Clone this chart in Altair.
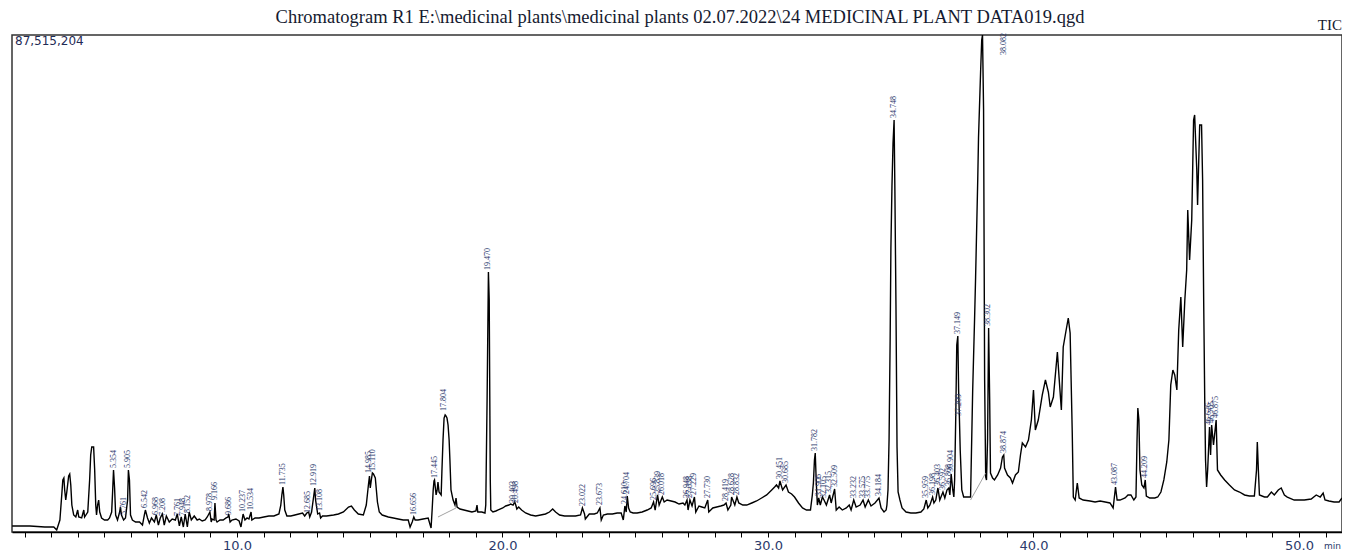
import altair as alt
import pandas as pd

# ---------------- data ----------------
# retention time (min) and TIC intensity (x 10^6 counts), segment by segment
rt_a = [1.53, 2.20, 2.76, 3.10, 3.21, 3.33, 3.40, 3.44, 3.48, 3.51, 3.55, 3.59, 3.66, 3.70, 3.74, 3.78, 3.85, 3.93, 4.00, 4.04,
        4.15, 4.23, 4.26, 4.38, 4.45, 4.49, 4.53, 4.60, 4.64, 4.68, 4.71, 4.75, 4.79, 4.83, 4.90, 5.01, 5.13, 5.20, 5.28, 5.31,
        5.35, 5.39, 5.43, 5.50, 5.58, 5.61, 5.65, 5.73, 5.80, 5.88, 5.91, 5.95, 5.99, 6.06, 6.18, 6.33, 6.44, 6.51, 6.55, 6.63, 6.70]
tic_a = [1.06, 1.06, 0.88, 0.88, 0.35, 2.11, 6.52, 9.16, 9.51, 7.40, 5.63, 7.04, 9.86, 10.21, 8.28, 4.75, 2.99, 2.64, 3.87, 2.64,
         2.47, 3.87, 2.64, 3.52, 9.16, 13.56, 14.97, 14.97, 10.92, 4.75, 2.99, 4.75, 5.63, 3.52, 2.47, 2.11, 2.11, 2.47, 3.52, 6.52,
         10.92, 7.75, 2.99, 2.11, 3.52, 4.40, 2.99, 2.11, 2.47, 5.63, 10.92, 9.16, 2.99, 2.11, 1.76, 1.76, 1.23, 2.99, 3.87, 2.47, 1.58]

rt_b = [6.78, 6.89, 6.96, 7.04, 7.11, 7.19, 7.26, 7.34, 7.45, 7.56, 7.68, 7.75, 7.83, 7.90, 7.98, 8.05, 8.13, 8.20, 8.28, 8.39,
        8.50, 8.58, 8.69, 8.80, 8.88, 8.98, 9.03, 9.06, 9.14, 9.17, 9.21, 9.25, 9.36, 9.48, 9.59, 9.66, 9.69, 9.74, 9.81, 9.96,
        10.08, 10.15, 10.23, 10.30, 10.38, 10.45, 10.53, 10.56, 10.68, 10.83]
tic_b = [2.47, 1.76, 2.99, 1.23, 2.47, 3.17, 1.23, 2.82, 1.76, 2.29, 2.11, 3.17, 1.06, 2.64, 0.88, 3.17, 0.88, 3.52, 2.11, 2.82,
         2.11, 2.29, 1.94, 2.11, 2.64, 3.52, 1.76, 2.29, 2.11, 5.11, 2.11, 1.76, 2.11, 2.11, 2.47, 2.64, 3.17, 1.76, 2.11, 2.29,
         1.94, 0.88, 3.17, 2.11, 2.47, 2.29, 3.52, 2.11, 2.47, 2.47]

rt_c = [11.01, 11.20, 11.39, 11.58, 11.65, 11.69, 11.73, 11.76, 11.80, 11.88, 12.03, 12.18, 12.33, 12.47, 12.55, 12.63, 12.70,
        12.74, 12.81, 12.89, 12.93, 12.96, 13.04, 13.11, 13.15, 13.22, 13.37, 13.64, 13.82, 14.01, 14.20, 14.31, 14.42, 14.57,
        14.76, 14.87, 14.95, 14.99, 15.02, 15.06, 15.10, 15.14, 15.21, 15.25, 15.29, 15.36, 15.47, 15.70, 15.89, 16.07, 16.26,
        16.45, 16.52, 16.60, 16.66, 16.71, 16.82, 17.01, 17.20, 17.31]
tic_c = [2.64, 2.82, 2.82, 3.17, 4.75, 6.52, 7.92, 6.52, 3.87, 2.82, 2.82, 2.99, 3.17, 3.35, 2.82, 3.35, 3.52,
         2.64, 3.52, 6.34, 7.75, 5.63, 3.17, 3.35, 2.47, 2.82, 2.82, 2.99, 3.17, 3.52, 4.40, 4.58, 3.87, 3.17,
         2.99, 4.75, 8.28, 9.86, 7.75, 9.16, 10.39, 10.21, 9.51, 7.40, 5.28, 3.52, 2.99, 2.64, 2.47, 2.29, 2.11,
         2.11, 0.88, 1.76, 2.64, 2.11, 2.11, 2.29, 2.47, 0.70]

rt_d = [17.35, 17.39, 17.42, 17.44, 17.50, 17.54, 17.57, 17.61, 17.69, 17.72, 17.76, 17.80, 17.84, 17.87, 17.91, 17.95, 17.99,
        18.02, 18.06, 18.14, 18.21, 18.25, 18.29, 18.40, 18.55, 18.70, 18.85, 19.00, 19.04, 19.07, 19.22, 19.34, 19.37, 19.42,
        19.47, 19.50, 19.54, 19.56, 19.64, 19.75]
tic_d = [3.87, 7.40, 8.98, 9.16, 6.52, 7.40, 8.80, 7.04, 6.52, 10.92, 16.20, 20.07, 20.60, 20.43, 20.07, 18.84, 16.20,
         12.68, 7.40, 5.63, 4.75, 5.99, 4.40, 4.05, 3.87, 3.70, 3.52, 3.70, 4.75, 3.52, 3.52, 3.35, 4.75, 23.24,
         45.78, 40.85, 9.16, 3.87, 3.52, 3.70]

rt_e = [19.82, 20.01, 20.12, 20.24, 20.31, 20.40, 20.46, 20.50, 20.54, 20.61, 20.72, 20.87, 21.06, 21.25, 21.44, 21.62, 21.77,
        21.89, 22.00, 22.15, 22.34, 22.52, 22.75, 22.94, 23.01, 23.09, 23.12, 23.27, 23.46, 23.57, 23.67, 23.72, 23.80, 23.95,
        24.14, 24.32, 24.47, 24.55, 24.61, 24.66, 24.70, 24.75, 24.81, 24.92, 25.07]
tic_e = [3.87, 4.23, 4.58, 4.75, 4.93, 4.75, 5.28, 4.75, 4.05, 4.40, 3.87, 3.35, 2.99, 2.82, 2.99, 3.17, 3.52,
         4.05, 3.52, 2.99, 2.82, 2.82, 2.82, 2.99, 4.23, 3.17, 2.29, 3.17, 3.17, 3.35, 4.23, 2.11, 2.99, 3.17,
         3.17, 3.35, 3.35, 2.11, 4.58, 3.52, 6.34, 4.23, 3.52, 3.35, 3.35]

rt_f = [25.26, 25.45, 25.60, 25.69, 25.75, 25.84, 25.90, 26.02, 26.09, 26.20, 26.35, 26.50, 26.65, 26.80, 26.87, 26.95, 26.99,
        27.06, 27.14, 27.23, 27.28, 27.40, 27.51, 27.62, 27.73, 27.77, 27.92, 28.07, 28.22, 28.34, 28.42, 28.49, 28.60, 28.63,
        28.75, 28.83, 28.90, 29.05, 29.20, 29.39, 29.57, 29.76, 29.95]
tic_f = [3.52, 3.87, 4.23, 5.28, 3.87, 6.52, 4.75, 6.16, 5.28, 5.63, 5.46, 5.28, 4.93, 5.11, 4.75, 5.63, 3.87,
         5.63, 4.58, 6.16, 3.52, 4.58, 4.40, 4.23, 5.63, 3.52, 4.23, 4.40, 4.58, 4.75, 5.11, 3.87, 4.75, 6.16,
         4.75, 6.16, 5.11, 4.75, 4.75, 5.11, 5.46, 5.99, 6.52]

rt_g = [30.14, 30.25, 30.32, 30.40, 30.45, 30.55, 30.68, 30.77, 30.89, 31.00, 31.15, 31.30, 31.45, 31.60, 31.67, 31.71, 31.75,
        31.78, 31.82, 31.86, 31.91, 31.97, 32.05, 32.11, 32.20, 32.32, 32.38, 32.51, 32.57, 32.68, 32.80, 32.95, 33.06, 33.13,
        33.23, 33.32, 33.47, 33.58, 33.66, 33.78, 33.88, 34.03, 34.18, 34.26, 34.37, 34.45]
tic_g = [7.40, 7.92, 8.28, 7.75, 8.98, 7.40, 8.28, 7.04, 6.69, 6.16, 5.11, 4.23, 3.87, 3.87, 6.52, 8.63, 12.68,
         13.91, 8.63, 4.75, 5.99, 4.75, 6.16, 5.63, 4.75, 6.52, 5.11, 7.57, 3.87, 4.40, 3.87, 4.23, 4.75, 3.87,
         5.63, 4.40, 4.75, 5.63, 4.40, 5.63, 4.58, 5.11, 5.99, 4.23, 3.52, 3.87]

rt_h = [34.48, 34.52, 34.56, 34.60, 34.63, 34.67, 34.71, 34.75, 34.78, 34.82,
        34.86, 34.90, 34.97, 35.05, 35.20, 35.38, 35.57, 35.76, 35.87, 35.96,
        36.02, 36.10, 36.20, 36.25, 36.32, 36.40, 36.47, 36.59, 36.66, 36.74,
        36.81, 36.85, 36.90, 36.96, 37.00, 37.03, 37.07, 37.11, 37.15, 37.18,
        37.21, 37.24, 37.30, 37.37, 37.52, 37.63, 37.71, 37.78, 37.82, 37.90,
        37.93, 38.01, 38.05, 38.08, 38.12, 38.16, 38.20, 38.23, 38.27, 38.31,
        38.35, 38.38, 38.46, 38.53, 38.65, 38.76, 38.83, 38.88, 38.91, 39.02,
        39.13, 39.21, 39.32, 39.43, 39.51, 39.58, 39.70, 39.81, 39.92, 40.00,
        40.07, 40.18, 40.33, 40.45, 40.56, 40.63, 40.75, 40.90, 40.97, 41.05,
        41.12, 41.23, 41.31, 41.38, 41.46, 41.50, 41.57, 41.65, 41.72]
tic_h = [4.75, 7.40, 16.20, 33.50, 50.20, 61.00, 68.50, 72.55, 60.00, 40.00,
         15.00, 7.04, 5.63, 4.23, 3.52, 3.35, 3.35, 3.52, 4.05, 5.63,
         4.23, 4.75, 6.16, 5.11, 5.63, 7.75, 5.63, 7.04, 5.99, 7.40,
         7.75, 6.52, 10.21, 7.40, 6.16, 9.16, 19.72, 32.93, 34.51, 25.00,
         20.07, 14.44, 7.40, 6.16, 6.16, 6.16, 25.00, 37.33, 44.90, 61.98,
         69.56, 81.35, 86.64, 87.515204, 74.31, 26.77, 9.68, 9.16, 16.20, 35.92,
         23.24, 10.39, 9.51, 9.16, 10.04, 11.27, 13.21, 13.56, 11.27, 10.04,
         9.51, 8.63, 10.04, 10.57, 13.56, 15.67, 14.97, 16.20, 19.72, 25.00,
         17.96, 19.72, 24.12, 26.77, 24.65, 22.01, 23.77, 31.70, 26.77, 21.48,
         32.58, 35.57, 37.68, 35.04, 17.43, 6.16, 5.63, 8.63, 5.99]

rt_i = [41.87, 42.13, 42.32, 42.51, 42.70, 42.88, 43.00, 43.09, 43.15, 43.26,
        43.45, 43.56, 43.67, 43.78, 43.86, 43.90, 43.93, 43.97, 44.01, 44.08,
        44.16, 44.21, 44.25, 44.38, 44.57, 44.68, 44.80, 44.91, 45.02, 45.10,
        45.17, 45.25, 45.32, 45.40, 45.47, 45.55, 45.62, 45.70, 45.77, 45.81,
        45.88, 45.96, 46.03, 46.07, 46.15, 46.18, 46.26, 46.33, 46.37, 46.41,
        46.45, 46.48, 46.52, 46.56, 46.63, 46.67, 46.71, 46.78, 46.88, 46.93,
        47.05, 47.20, 47.38, 47.57, 47.76, 47.95, 48.13, 48.32, 48.40, 48.43,
        48.47, 48.51, 48.70, 48.81, 48.96, 49.07, 49.22, 49.33, 49.45, 49.56,
        49.82, 50.20, 50.46, 50.65, 50.80, 50.91, 50.98, 51.13, 51.32, 51.51, 51.62]
tic_i = [5.63, 5.46, 5.28, 5.46, 5.28, 5.11, 4.23, 7.92, 5.63, 5.63,
         5.99, 6.52, 6.52, 5.63, 6.16, 16.20, 21.84, 19.72, 10.92, 8.28,
         7.75, 9.16, 6.34, 5.99, 5.99, 6.16, 7.04, 9.16, 12.33, 16.20,
         25.89, 28.53, 27.65, 25.00, 35.57, 41.38, 32.58, 40.85, 46.14, 56.70,
         47.90, 54.94, 72.55, 73.43, 63.74, 57.58, 71.67, 71.67, 61.98, 40.85,
         23.24, 12.68, 7.92, 10.92, 18.49, 13.56, 18.84, 15.32, 19.72, 10.92,
         10.04, 9.16, 8.28, 7.40, 7.04, 6.52, 6.34, 6.34, 10.92, 15.85,
         10.92, 6.52, 6.16, 6.16, 7.04, 6.52, 7.40, 7.75, 6.52, 6.16,
         5.63, 5.63, 5.81, 6.52, 6.16, 6.87, 5.63, 5.46, 5.28, 5.28, 5.99]

# labelled peaks: retention time and the intensity where the label starts
peak_rt = [5.354, 5.761, 5.905, 6.542, 6.968, 7.208, 7.761, 7.948, 8.152, 8.978, 9.166, 9.686, 10.237, 10.534,
           11.735, 12.685, 12.919, 13.108, 14.985, 15.110, 16.656, 17.445, 17.804, 19.470, 20.403, 20.498,
           23.022, 23.673, 24.610, 24.704, 25.696, 25.839, 26.018, 26.948, 27.058, 27.229, 27.730, 28.419,
           28.628, 28.832, 30.451, 30.685, 31.782, 31.906, 32.105, 32.315, 32.509, 33.232, 33.575, 33.775,
           34.184, 34.748, 35.959, 36.198, 36.403, 36.592, 36.808, 36.904, 37.149, 37.209, 38.302, 38.874,
           43.087, 44.209, 46.626, 46.705, 46.875]
peak_top = [10.92, 2.64, 10.92, 3.87, 2.64, 2.47, 2.47, 2.47, 2.99, 3.35, 5.28, 2.64, 3.17, 3.52,
            7.92, 2.99, 7.75, 3.35, 10.04, 10.39, 2.64, 9.16, 20.95, 45.78, 4.75, 4.75,
            4.23, 4.40, 4.58, 6.34, 5.28, 6.52, 6.16, 5.63, 5.63, 6.16, 5.63, 5.11,
            6.16, 6.16, 8.98, 8.28, 13.91, 5.99, 5.63, 6.52, 7.57, 5.63, 5.63, 5.63,
            5.99, 72.55, 5.63, 6.16, 7.75, 7.04, 7.75, 10.21, 34.51, 20.07, 35.92, 13.56,
            7.92, 9.16, 18.49, 18.84, 19.72]
top_peak_rt = [38.082]
top_peak_label_at = [83.99]

# integration baselines drawn under two peaks
base_rt0 = [17.57, 37.63]
base_i0 = [2.64, 5.63]
base_rt1 = [18.25, 38.20]
base_i1 = [4.23, 10.39]

x_ticks = list(range(2, 52))
y_max = 87515204
title_text = r"Chromatogram R1 E:\medicinal plants\medicinal plants 02.07.2022\24 MEDICINAL PLANT DATA019.qgd"

# ---------------- build ----------------
rt = rt_a + rt_b + rt_c + rt_d + rt_e + rt_f + rt_g + rt_h + rt_i
tic = tic_a + tic_b + tic_c + tic_d + tic_e + tic_f + tic_g + tic_h + tic_i
assert len(rt) == len(tic), (len(rt), len(tic))
assert len(peak_rt) == len(peak_top), (len(peak_rt), len(peak_top))

trace = pd.DataFrame({"rt": rt, "tic": tic})
peaks = pd.DataFrame({"rt": peak_rt, "tic": peak_top, "label": [f"{v:.3f}" for v in peak_rt]})
top_peak = pd.DataFrame({"rt": top_peak_rt, "tic": top_peak_label_at,
                         "label": [f"{v:.3f}" for v in top_peak_rt]})
bases = pd.DataFrame({"rt": base_rt0, "tic": base_i0, "rt2": base_rt1, "tic2": base_i1})

W, H = 1330, 497
xscale = alt.Scale(domain=[1.526, 51.62], nice=False, zero=False)
yscale = alt.Scale(domain=[0, y_max / 1e6], nice=False, zero=False)

xaxis = alt.Axis(values=x_ticks, grid=False, tickSize=5, tickColor="black", tickWidth=1,
                 domainColor="black", domainWidth=1.5,
                 labelExpr="datum.value % 10 == 0 ? format(datum.value, '.1f') : ''",
                 labelFont="DejaVu Sans", labelFontSize=13, labelColor="#2b3a6b",
                 labelPadding=2, labelFlush=False, labelOverlap=False, title=None)
X = alt.X("rt:Q", scale=xscale, axis=xaxis, title=None)
Y = alt.Y("tic:Q", scale=yscale, axis=None, title=None)

line = alt.Chart(trace).mark_line(color="black", strokeWidth=1.4, clip=True).encode(x=X, y=Y)

baselines = alt.Chart(bases).mark_rule(color="#8a8a8a", strokeWidth=0.8).encode(
    x=X, y=Y, x2=alt.X2("rt2:Q"), y2=alt.Y2("tic2:Q"))

labels = alt.Chart(peaks).mark_text(angle=270, align="left", baseline="middle", dx=2,
                                    font="Liberation Serif", fontSize=8, color="#27356a").encode(
    x=X, y=Y, text="label:N")

top_label = alt.Chart(top_peak).mark_text(angle=270, align="left", baseline="middle", dy=21,
                                          font="Liberation Serif", fontSize=8, color="#27356a").encode(
    x=X, y=Y, text="label:N")

data_layers = alt.layer(line, baselines, labels, top_label)

title = alt.Chart(pd.DataFrame({"t": [title_text]})).mark_text(
    align="center", baseline="alphabetic", font="Liberation Serif", fontSize=18.5, color="#151a30").encode(
    x=alt.value(668), y=alt.value(-12), text="t:N")

ymax_txt = alt.Chart(pd.DataFrame({"t": [f"{y_max:,}"]})).mark_text(
    align="left", baseline="middle", font="DejaVu Sans", fontSize=12, color="#1f2b55").encode(
    x=alt.value(3), y=alt.value(6), text="t:N")

tic_txt = alt.Chart(pd.DataFrame({"t": ["TIC"]})).mark_text(
    align="right", baseline="bottom", font="Liberation Serif", fontSize=15, color="#151a30").encode(
    x=alt.value(W), y=alt.value(-2), text="t:N")

min_txt = alt.Chart(pd.DataFrame({"t": ["min"]})).mark_text(
    align="left", baseline="top", font="DejaVu Sans", fontSize=9, color="#2b3a6b").encode(
    x=alt.value(W - 18), y=alt.value(H + 10), text="t:N")

chart = alt.layer(data_layers, title, ymax_txt, tic_txt, min_txt).properties(
    width=W, height=H,
    autosize=alt.AutoSizeParams(type="none"),
    padding={"left": 4, "top": 27, "right": 0, "bottom": 22},
).configure_view(stroke="#333333", strokeWidth=1.5)

chart.save("out.html", embed_options={"renderer": "svg", "actions": False})
